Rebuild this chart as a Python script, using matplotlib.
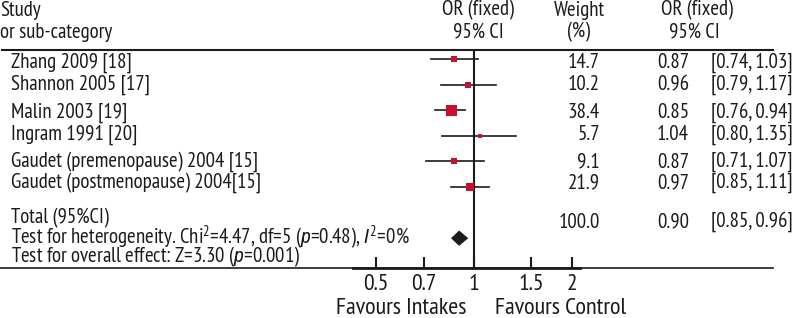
import matplotlib
matplotlib.use("Agg")
import matplotlib.pyplot as plt
import numpy as np

plt.rcParams['font.family'] = ['PT Sans Narrow', 'DejaVu Sans']
plt.rcParams['mathtext.fontset'] = 'custom'
plt.rcParams['mathtext.rm'] = 'PT Sans Narrow'
plt.rcParams['mathtext.it'] = 'Roboto Condensed:italic'

# study data
studies = ["Zhang 2009 [18]", "Shannon 2005 [17]", "Malin 2003 [19]", "Ingram 1991 [20]",
           "Gaudet (premenopause) 2004 [15]", "Gaudet (postmenopause) 2004[15]"]
weights = [14.7, 10.2, 38.4, 5.7, 9.1, 21.9]
odds = [0.87, 0.96, 0.85, 1.04, 0.87, 0.97]
ci_low = [0.74, 0.79, 0.76, 0.80, 0.71, 0.85]
ci_high = [1.03, 1.17, 0.94, 1.35, 1.07, 1.11]

total_weight = 100.0
total_or = 0.90
total_low = 0.85
total_high = 0.96

xticks = [0.5, 0.7, 1, 1.5, 2]
xticklabels = ["0.5", "0.7", "1", "1.5", "2"]

W, H = 795, 318
fig = plt.figure(figsize=(W / 100, H / 100), dpi=100)

# background axes in pixel units for the table text and rules
bg = fig.add_axes([0, 0, 1, 1])
bg.set_xlim(0, W)
bg.set_ylim(H, 0)
bg.axis('off')

fs = 15
red = '#c8102e'
ink = '#1e1a1a'

# forest plot axes
ax_l, ax_r, ax_t, ax_b = 353, 580, 50, 268
ax = fig.add_axes([ax_l / W, 1 - ax_b / H, (ax_r - ax_l) / W, (ax_b - ax_t) / H])
ax.patch.set_alpha(0)
ax.set_xscale('log')
center, scale = 474, 141.4
ax.set_xlim(np.exp((ax_l - center) / scale), np.exp((ax_r - center) / scale))
row_h = 25.6
ax.set_ylim((ax_b - 59) / row_h, (ax_t - 59) / row_h)
for s in ['top', 'right', 'left']:
    ax.spines[s].set_visible(False)
ax.spines['bottom'].set_linewidth(2)
ax.spines['bottom'].set_color(ink)
ax.set_yticks([])
ax.set_xticks(xticks)
ax.set_xticklabels(xticklabels, fontsize=17, color=ink)
ax.xaxis.set_minor_locator(matplotlib.ticker.NullLocator())
ax.tick_params(axis='x', direction='in', length=8, width=1.5, pad=4, color=ink)

ax.axvline(1, color=ink, lw=1.5)

rows = np.arange(len(studies))
for i, (o, lo, hi, w) in enumerate(zip(odds, ci_low, ci_high, weights)):
    ax.plot([lo, hi], [i, i], color=ink, lw=1.2)
    ax.plot(o, i, marker='s', color=red, ms=11 * 0.72 * np.sqrt(w / max(weights)), mew=0)

ty = 7.0
dh = 0.3
ax.fill([total_low, total_or, total_high, total_or], [ty, ty - dh, ty, ty + dh],
        color=ink, lw=0)

# rules
bg.plot([2, 773], [50, 50], color=ink, lw=1.5)
bg.plot([0, 773], [268, 268], color=ink, lw=1.2)

kw = dict(fontsize=fs, va='center', color=ink)
# headers
bg.text(0, 10, "Study", ha='left', **kw)
bg.text(0, 32, "or sub-category", ha='left', **kw)
bg.text(478, 10, "OR (fixed)", ha='center', **kw)
bg.text(478, 32, "95% CI", ha='center', **kw)
bg.text(579, 10, "Weight", ha='center', **kw)
bg.text(579, 32, "(%)", ha='center', **kw)
bg.text(697, 10, "OR (fixed)", ha='center', **kw)
bg.text(694, 32, "95% CI", ha='center', **kw)

# study rows
text_y = [63, 85, 113, 135, 162, 183]
for i, name in enumerate(studies):
    y = text_y[i]
    bg.text(11, y, name, ha='left', **kw)
    bg.text(600, y, f"{weights[i]:.1f}", ha='right', **kw)
    bg.text(657, y, f"{odds[i]:.2f}", ha='left', **kw)
    bg.text(711, y, f"[{ci_low[i]:.2f}, {ci_high[i]:.2f}]", ha='left', **kw)

# totals
bg.text(11, 218, "Total (95%CI)", ha='left', **kw)
bg.text(11, 237, r"Test for heterogeneity. Chi$^2$=4.47, df=5 ($\mathit{p}$=0.48), $\mathit{I}^2$=0%",
        ha='left', **kw)
bg.text(11, 257, r"Test for overall effect: Z=3.30 ($\mathit{p}$=0.001)", ha='left', **kw)
bg.text(600, 222, f"{total_weight:.1f}", ha='right', **kw)
bg.text(657, 222, f"{total_or:.2f}", ha='left', **kw)
bg.text(711, 222, f"[{total_low:.2f}, {total_high:.2f}]", ha='left', **kw)

bg.text(467, 309, "Favours Intakes", ha='right', fontsize=17.5, va='center', color=ink)
bg.text(495, 309, "Favours Control", ha='left', fontsize=17.5, va='center', color=ink)

fig.savefig("out.png", dpi=100)
